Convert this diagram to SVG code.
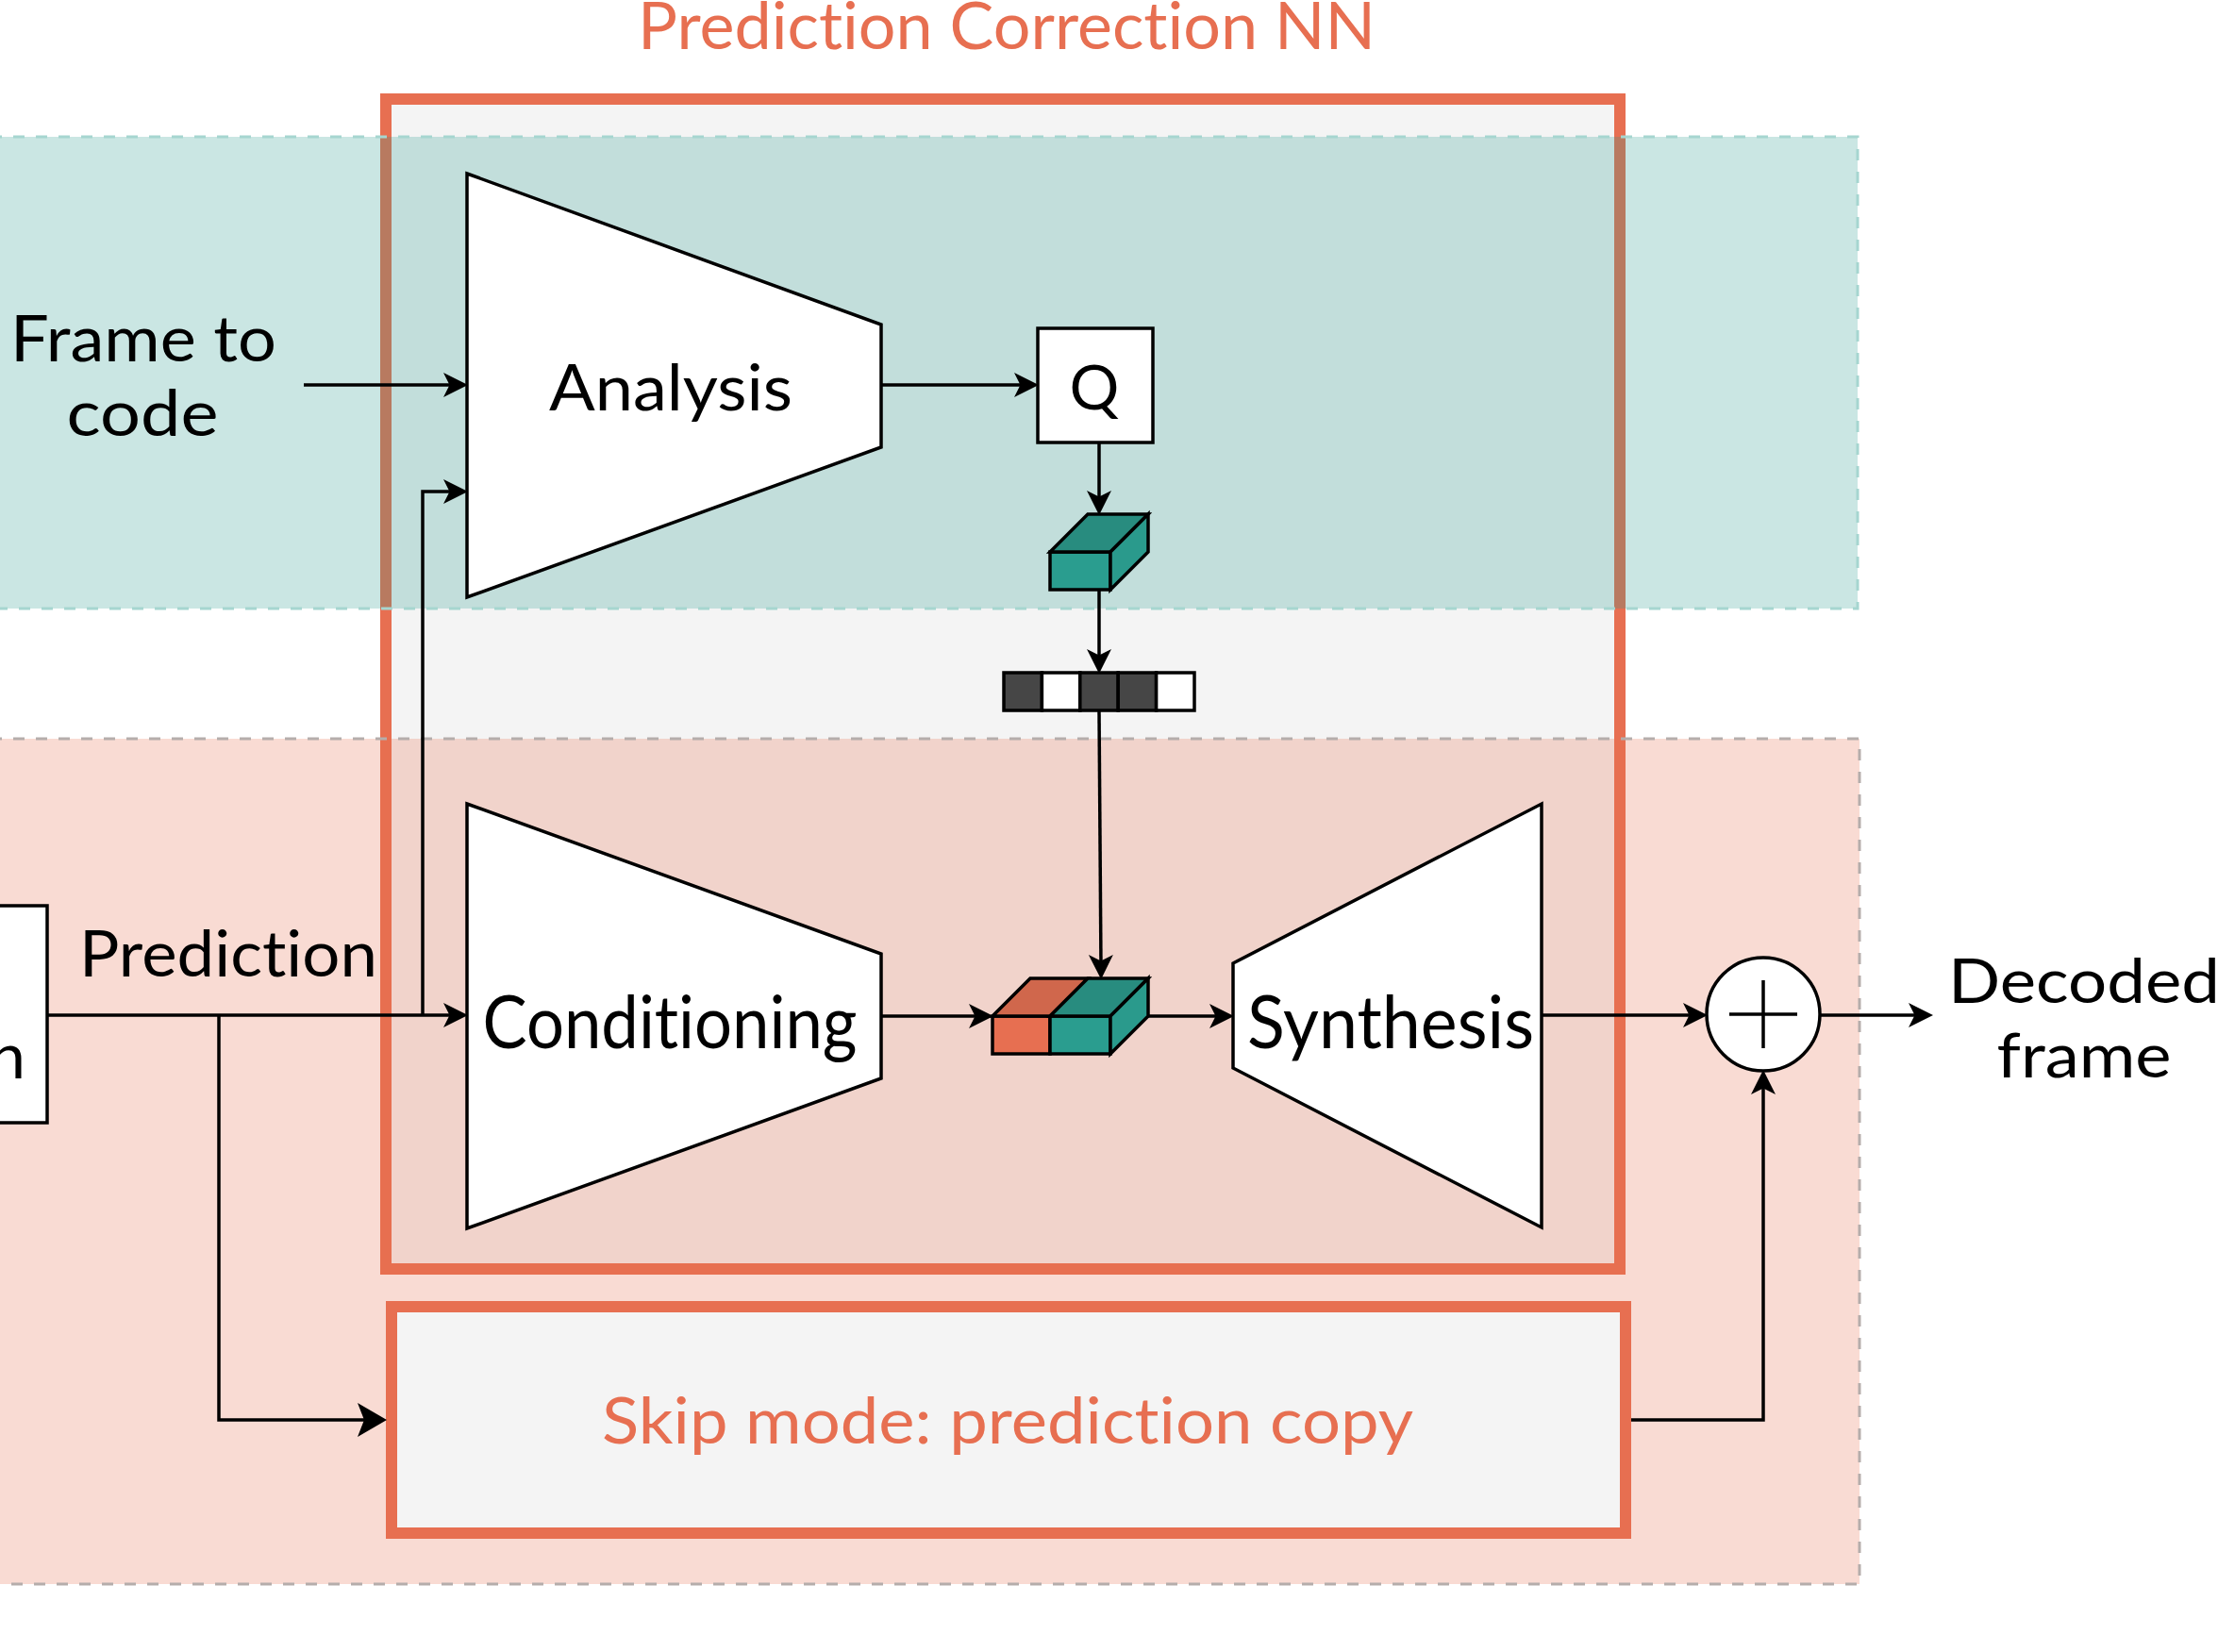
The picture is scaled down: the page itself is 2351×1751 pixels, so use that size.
<svg xmlns="http://www.w3.org/2000/svg" width="2351" height="1751" viewBox="0 0 2351 1751">
  <defs>
    <style>
      .txt { font-family: Lato, "Noto Sans", "DejaVu Sans", sans-serif; fill: #000000; font-variant-ligatures: none; font-feature-settings: "liga" 0, "clig" 0, "dlig" 0; }
      .otxt { font-family: Lato, "Noto Sans", "DejaVu Sans", sans-serif; fill: #E76F51; font-variant-ligatures: none; font-feature-settings: "liga" 0, "clig" 0, "dlig" 0; }
      .shape { fill: #FFFFFF; stroke: #000000; stroke-width: 3.5; stroke-linejoin: miter; }
      .edge { fill: none; stroke: #000000; stroke-width: 3.5; stroke-linejoin: miter; }
      .cube { stroke: #000000; stroke-width: 3.5; stroke-linejoin: miter; }
    </style>
    <marker id="arrow" markerUnits="userSpaceOnUse" markerWidth="26" markerHeight="26" viewBox="0 0 24 24" refX="12" refY="12" orient="auto" overflow="visible">
      <path d="M0,0 L24,12 L0,24 L6,12 Z" fill="#000000"/>
    </marker>
    <marker id="arrowBig" markerUnits="userSpaceOnUse" markerWidth="34" markerHeight="36" viewBox="0 0 31 36" refX="15" refY="18" orient="auto" overflow="visible">
      <path d="M0,0 L31,18 L0,36 L7,18 Z" fill="#000000"/>
    </marker>
  </defs>

  <rect x="0" y="0" width="2351" height="1751" fill="#FFFFFF"/>

  <!-- Prediction Correction NN frame (under the bands) -->
  <g id="pc-frame">
    <rect x="409" y="105" width="1308" height="1240" fill="#F4F4F4" stroke="#E76F51" stroke-width="12"/>
    <text class="otxt" x="1067" y="52" font-size="69" text-anchor="middle" textLength="782" lengthAdjust="spacingAndGlyphs">Prediction Correction NN</text>
  </g>

  <!-- Encoder (teal) and decoder (pink) bands -->
  <g id="band-encoder">
    <rect x="-10" y="145" width="1979" height="500" fill="#2A9D8F" fill-opacity="0.25" stroke="#A6D6D0" stroke-width="3" stroke-dasharray="12 12"/>
  </g>
  <g id="band-decoder">
    <rect x="-10" y="783" width="1981" height="896" fill="#E76F51" fill-opacity="0.25" stroke="#B5ADAB" stroke-width="3" stroke-dasharray="12 12"/>
  </g>

  <!-- Skip mode box -->
  <g id="skip-mode">
    <rect x="415" y="1385" width="1308" height="240" fill="#F4F4F4" stroke="#E76F51" stroke-width="12"/>
    <text class="otxt" x="1068" y="1530" font-size="67" text-anchor="middle" textLength="860" lengthAdjust="spacingAndGlyphs">Skip mode: prediction copy</text>
  </g>

  <!-- Cut-off box on the left -->
  <g id="left-box">
    <rect x="-100" y="960" width="150" height="230" class="shape"/>
    <text class="txt" x="27" y="1143" font-size="68" text-anchor="end">n</text>
  </g>

  <!-- Frame to code label -->
  <g id="frame-to-code">
    <text class="txt" x="152" y="383" font-size="68" text-anchor="middle" textLength="282" lengthAdjust="spacingAndGlyphs">Frame to</text>
    <text class="txt" x="151" y="462" font-size="68" text-anchor="middle" textLength="161" lengthAdjust="spacingAndGlyphs">code</text>
  </g>

  <!-- Prediction label -->
  <g id="prediction-label">
    <text class="txt" x="242" y="1035" font-size="68" text-anchor="middle" textLength="316" lengthAdjust="spacingAndGlyphs">Prediction</text>
  </g>

  <!-- Analysis -->
  <g id="analysis">
    <polygon points="495,184 934,344 934,474 495,633" class="shape"/>
    <text class="txt" x="711" y="435" font-size="67" text-anchor="middle" textLength="258" lengthAdjust="spacingAndGlyphs">Analysis</text>
  </g>

  <!-- Q -->
  <g id="quantizer">
    <rect x="1100" y="348" width="122" height="121" class="shape"/>
    <text class="txt" x="1160" y="434" font-size="66" text-anchor="middle">Q</text>
  </g>

  <!-- Latent cube -->
  <g id="latent">
    <rect x="1113" y="585" width="64" height="40" class="cube" fill="#2A9D8F"/>
    <polygon points="1113,585 1153,545 1217,545 1177,585" class="cube" fill="#288C7F"/>
    <polygon points="1177,585 1217,545 1217,585 1177,625" class="cube" fill="#2A9A8C"/>
  </g>

  <!-- Bitstream -->
  <g id="bitstream">
    <rect x="1064" y="713" width="40.4" height="40" class="cube" fill="#464646"/>
    <rect x="1104.4" y="713" width="40.4" height="40" class="cube" fill="#FFFFFF"/>
    <rect x="1144.8" y="713" width="40.4" height="40" class="cube" fill="#464646"/>
    <rect x="1185.2" y="713" width="40.4" height="40" class="cube" fill="#464646"/>
    <rect x="1225.6" y="713" width="40.4" height="40" class="cube" fill="#FFFFFF"/>
  </g>

  <!-- Conditioning -->
  <g id="conditioning">
    <polygon points="495,852 934,1011 934,1143 495,1302" class="shape"/>
    <text class="txt" x="710" y="1111" font-size="78" text-anchor="middle" textLength="397" lengthAdjust="spacingAndGlyphs">Conditioning</text>
  </g>

  <!-- Concatenated cube -->
  <g id="concat">
    <rect x="1052" y="1077" width="61" height="40" class="cube" fill="#E76F51"/>
    <rect x="1113" y="1077" width="64" height="40" class="cube" fill="#2A9D8F"/>
    <polygon points="1052,1077 1092,1037 1153,1037 1113,1077" class="cube" fill="#D0674C"/>
    <polygon points="1113,1077 1153,1037 1217,1037 1177,1077" class="cube" fill="#288C7F"/>
    <polygon points="1177,1077 1217,1037 1217,1077 1177,1117" class="cube" fill="#2A9A8C"/>
  </g>

  <!-- Synthesis -->
  <g id="synthesis">
    <polygon points="1307,1021 1634,852 1634,1301 1307,1132" class="shape"/>
    <text class="txt" x="1474" y="1111" font-size="78" text-anchor="middle" textLength="304" lengthAdjust="spacingAndGlyphs">Synthesis</text>
  </g>

  <!-- Sum -->
  <g id="sum">
    <circle cx="1869" cy="1075" r="60" class="shape"/>
    <path d="M1833,1075 H1905 M1869,1039 V1111" class="edge"/>
  </g>

  <!-- Decoded frame label -->
  <g id="decoded-frame">
    <text class="txt" x="2209" y="1063" font-size="66" text-anchor="middle" textLength="288" lengthAdjust="spacingAndGlyphs">Decoded</text>
    <text class="txt" x="2209" y="1142" font-size="66" text-anchor="middle" textLength="185" lengthAdjust="spacingAndGlyphs">frame</text>
  </g>

  <!-- Connectors -->
  <g id="connectors">
    <path d="M322,408 H483" class="edge" marker-end="url(#arrow)"/>
    <path d="M934,408 H1088" class="edge" marker-end="url(#arrow)"/>
    <path d="M1165,469 V533" class="edge" marker-end="url(#arrow)"/>
    <path d="M1165,625 V701" class="edge" marker-end="url(#arrow)"/>
    <path d="M1165,753 L1167,1025" class="edge" marker-end="url(#arrow)"/>
    <path d="M50,1076 H483" class="edge" marker-end="url(#arrow)"/>
    <path d="M448,1076 V521 H483" class="edge" marker-end="url(#arrow)"/>
    <path d="M232,1076 V1505 H394" class="edge" marker-end="url(#arrowBig)"/>
    <path d="M934,1077 H1040" class="edge" marker-end="url(#arrow)"/>
    <path d="M1217,1077 H1295" class="edge" marker-end="url(#arrow)"/>
    <path d="M1634,1076 H1797" class="edge" marker-end="url(#arrow)"/>
    <path d="M1929,1076 H2036" class="edge" marker-end="url(#arrow)"/>
    <path d="M1729,1505 H1869 V1147" class="edge" marker-end="url(#arrow)"/>
  </g>
</svg>
